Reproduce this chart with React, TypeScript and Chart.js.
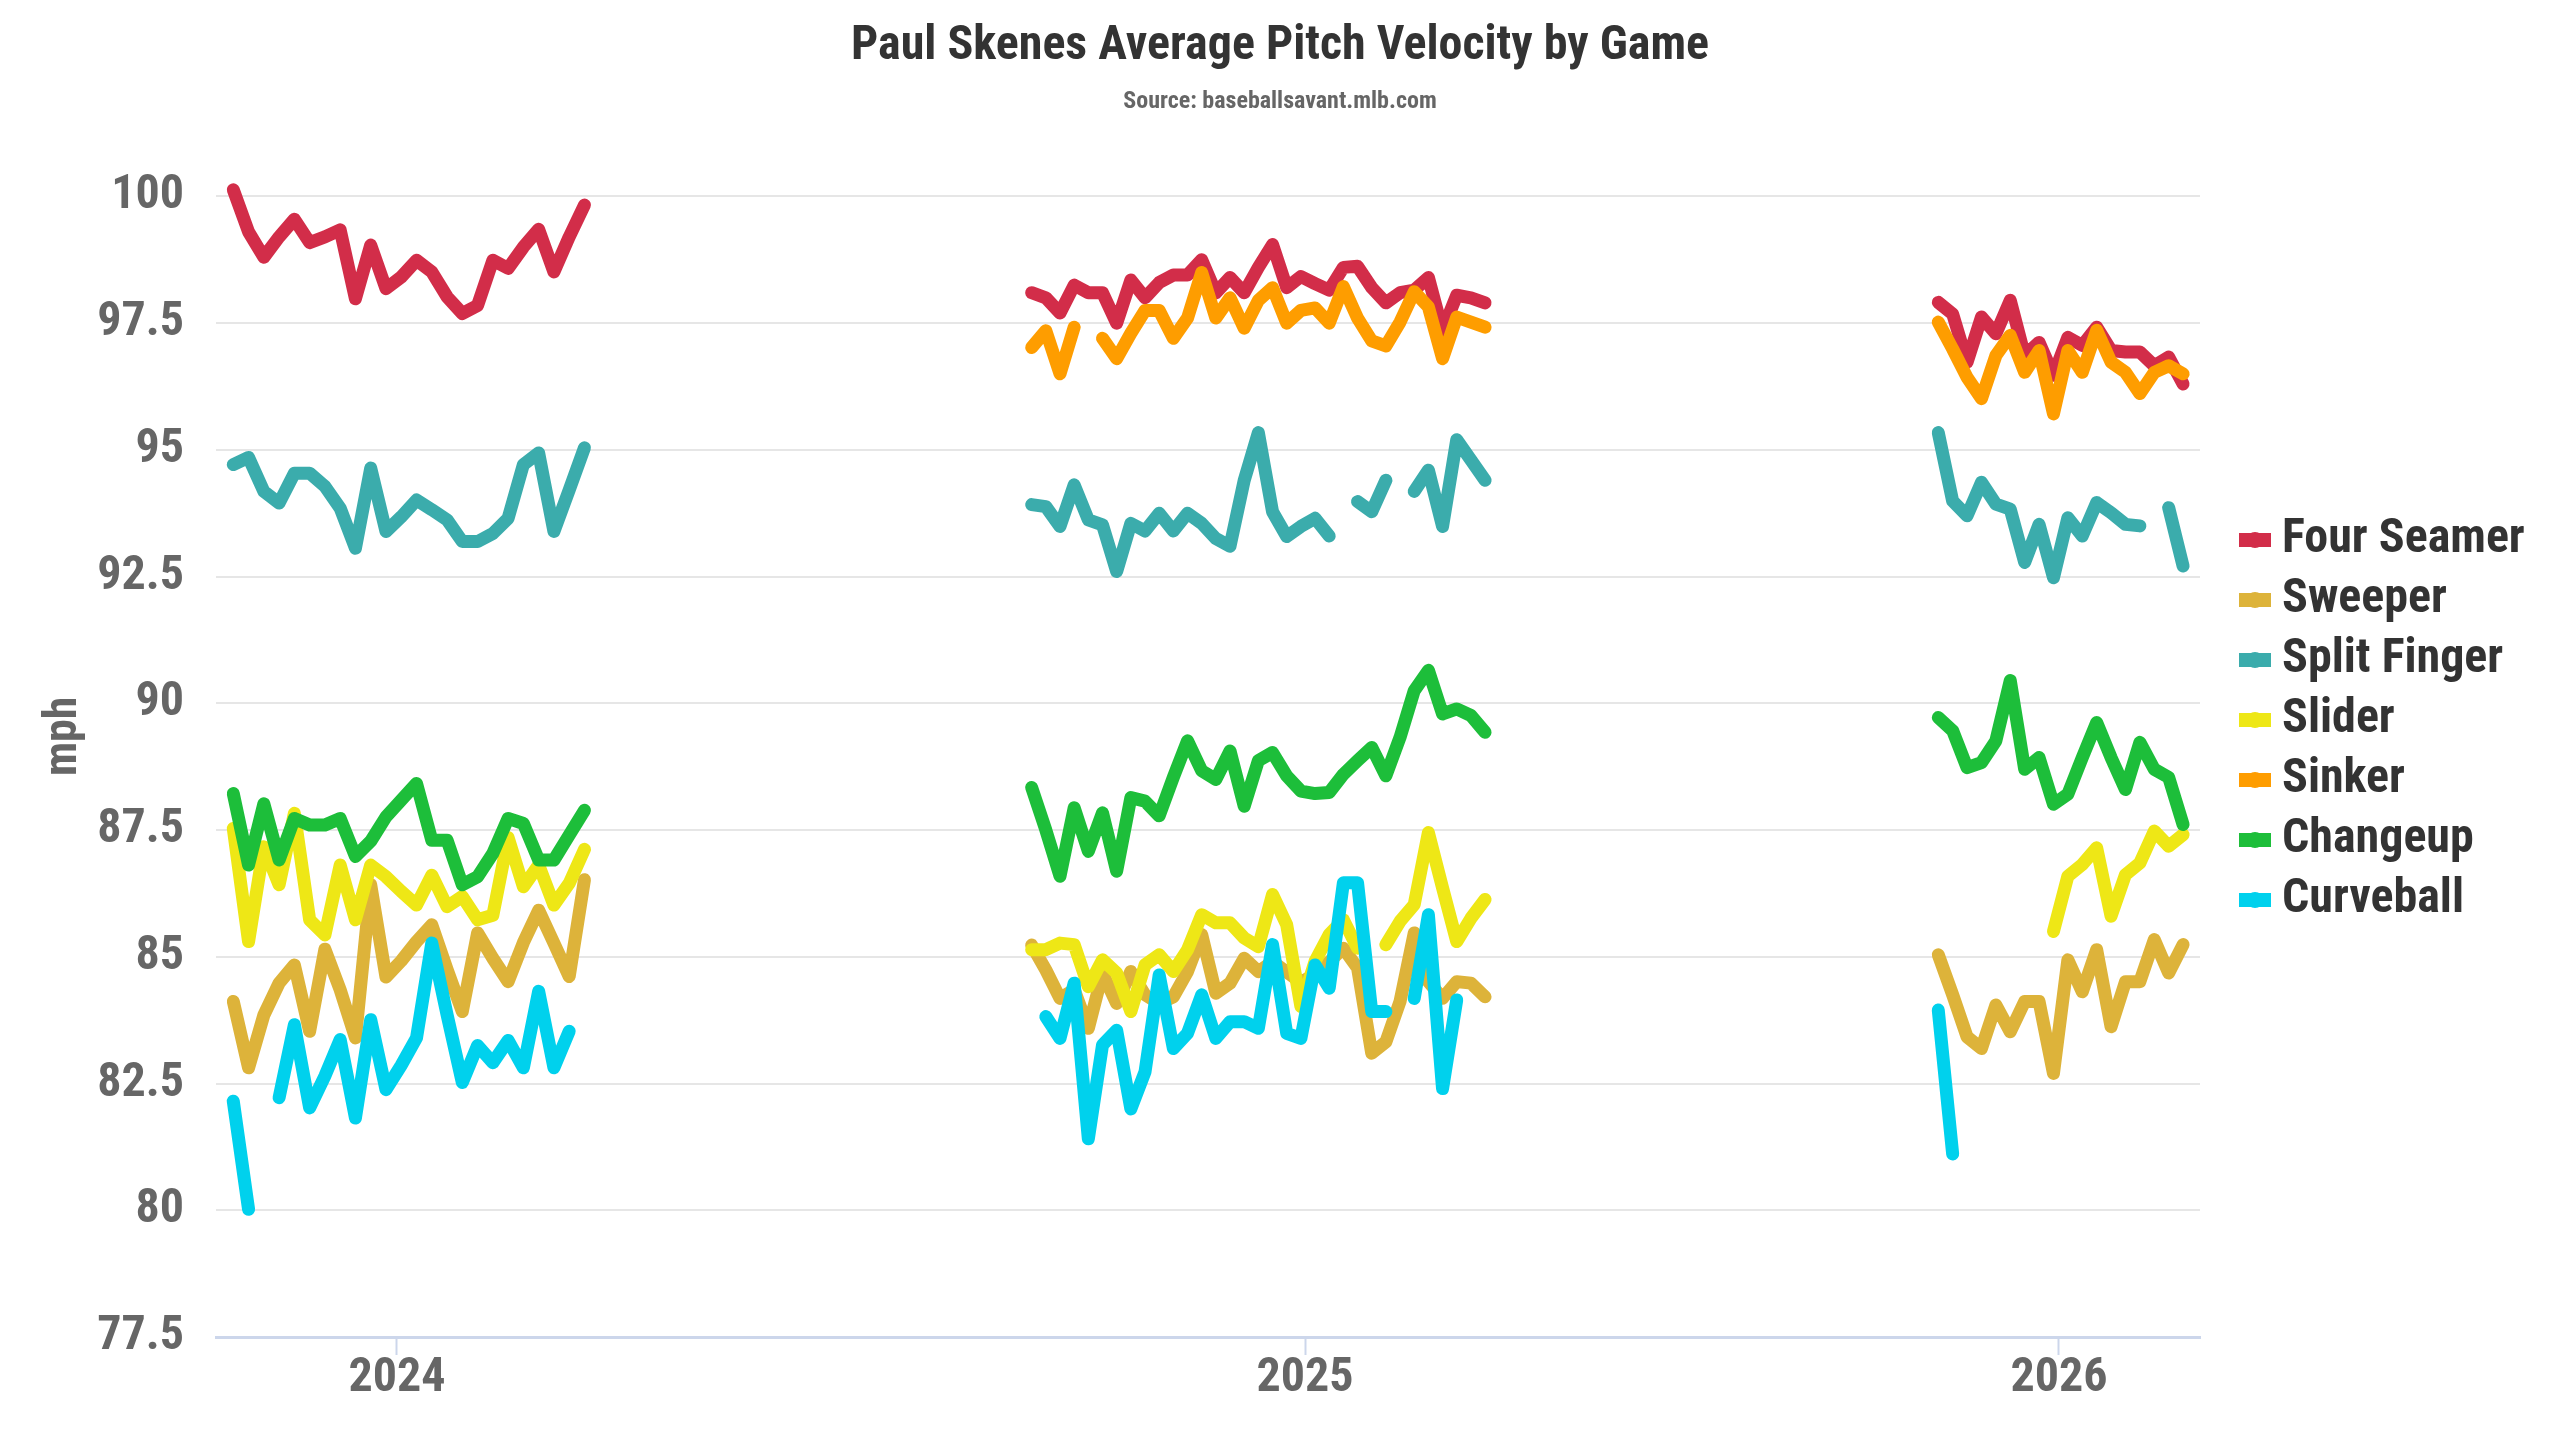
import React, { useEffect, useRef } from 'react';
import { Chart, registerables } from 'chart.js';

Chart.register(...registerables);

const FONT = "'Roboto Condensed', 'Liberation Sans Narrow', 'DejaVu Sans Condensed', Roboto, sans-serif";

const pitchTypes = ['Four Seamer', 'Sweeper', 'Split Finger', 'Slider', 'Sinker', 'Changeup', 'Curveball'];
const pitchColors = ['#D22D49', '#DDB33A', '#3BACAC', '#EEE716', '#FE9D00', '#1DBE3A', '#00D1ED'];

// ---- 2024 season (average mph per game) ----
const fourSeamer2024 = [100.13, 99.3, 98.8, 99.2, 99.55, 99.09, 99.2, 99.34, 97.98, 99.04, 98.18, 98.41, 98.74, 98.51, 98.02, 97.69, 97.85, 98.74, 98.58, 99.0, 99.35, 98.51, 99.2, 99.83];
const sweeper2024 = [84.12, 82.81, 83.85, 84.48, 84.84, 83.53, 85.15, 84.35, 83.4, 86.42, 84.6, 84.92, 85.3, 85.63, 84.75, 83.92, 85.47, 84.97, 84.51, 85.28, 85.92, 85.27, 84.61, 86.52];
const splitFinger2024 = [94.71, 94.85, 94.18, 93.95, 94.54, 94.54, 94.28, 93.85, 93.06, 94.64, 93.39, 93.68, 94.01, 93.82, 93.62, 93.19, 93.19, 93.35, 93.65, 94.71, 94.94, 93.39, 94.21, 95.04];
const slider2024 = [87.53, 85.3, 87.17, 86.42, 87.83, 85.73, 85.43, 86.81, 85.73, 86.81, 86.58, 86.29, 86.02, 86.61, 85.99, 86.19, 85.73, 85.82, 87.35, 86.38, 86.81, 86.02, 86.45, 87.12];
const sinker2024: (number | null)[] = new Array(24).fill(null);
const changeup2024 = [88.22, 86.81, 88.02, 86.91, 87.73, 87.6, 87.6, 87.73, 86.98, 87.28, 87.76, 88.09, 88.42, 87.3, 87.3, 86.42, 86.58, 87.04, 87.73, 87.63, 86.91, 86.91, 87.4, 87.89];
const curveball2024 = [82.15, 80.02, null, 82.22, 83.66, 82.02, 82.65, 83.37, 81.82, 83.76, 82.38, 82.86, 83.4, 85.27, 83.86, 82.52, 83.25, 82.91, 83.35, 82.81, 84.32, 82.81, 83.53, null];

// ---- 2025 season ----
const fourSeamer2025 = [98.1, 98.0, 97.7, 98.25, 98.1, 98.1, 97.5, 98.35, 98.0, 98.3, 98.45, 98.45, 98.75, 98.1, 98.4, 98.1, 98.6, 99.05, 98.2, 98.42, 98.28, 98.15, 98.6, 98.62, 98.2, 97.9, 98.1, 98.15, 98.4, 97.35, 98.05, 98.0, 97.9];
const sweeper2025 = [85.23, 84.74, 84.18, 84.35, 83.59, 84.68, 84.08, 84.71, 84.25, 84.08, 84.21, 84.71, 85.44, 84.28, 84.48, 84.97, 84.71, 84.9, 84.7, 84.5, 84.65, 84.9, 85.17, 84.78, 83.1, 83.32, 84.12, 85.47, 84.51, 84.18, 84.51, 84.48, 84.21];
const splitFinger2025 = [93.92, 93.88, 93.49, 94.31, 93.62, 93.52, 92.6, 93.55, 93.4, 93.75, 93.4, 93.75, 93.55, 93.25, 93.1, 94.4, 95.34, 93.78, 93.29, 93.49, 93.65, 93.3, null, 93.98, 93.78, 94.4, null, 94.18, 94.6, 93.49, 95.2, 94.8, 94.4];
const slider2025 = [85.14, 85.14, 85.27, 85.24, 84.41, 84.94, 84.68, 83.92, 84.84, 85.04, 84.71, 85.14, 85.83, 85.67, 85.67, 85.37, 85.2, 86.23, 85.63, 84.02, 84.91, 85.44, 85.73, 85.17, null, 85.24, 85.7, 86.03, 87.45, 86.36, 85.3, 85.76, 86.13];
const sinker2025 = [97.02, 97.35, 96.5, 97.42, null, 97.2, 96.8, 97.3, 97.75, 97.75, 97.2, 97.6, 98.5, 97.6, 98.0, 97.4, 97.95, 98.2, 97.5, 97.75, 97.8, 97.5, 98.22, 97.6, 97.15, 97.05, 97.52, 98.12, 97.82, 96.8, 97.62, 97.52, 97.42];
const changeup2025 = [88.34, 87.5, 86.59, 87.94, 87.08, 87.84, 86.69, 88.14, 88.07, 87.78, 88.54, 89.26, 88.67, 88.5, 89.06, 87.97, 88.87, 89.03, 88.57, 88.27, 88.22, 88.24, 88.6, 88.87, 89.13, 88.57, 89.33, 90.25, 90.65, 89.79, 89.89, 89.76, 89.43];
const curveball2025 = [null, 83.82, 83.39, 84.48, 81.41, 83.26, 83.55, 82.0, 82.73, 84.64, 83.19, 83.49, 84.25, 83.39, 83.72, 83.72, 83.59, 85.24, 83.49, 83.39, 84.84, 84.38, 86.46, 86.46, 83.92, 83.92, null, 84.18, 85.83, 82.4, 84.15, null, null];

// ---- 2026 season ----
const fourSeamer2026 = [97.91, 97.68, 96.73, 97.62, 97.29, 97.95, 96.86, 97.12, 96.47, 97.22, 97.06, 97.42, 96.96, 96.93, 96.93, 96.66, 96.83, 96.3];
const sweeper2026 = [85.04, 84.25, 83.42, 83.19, 84.05, 83.52, 84.12, 84.12, 82.7, 84.94, 84.31, 85.14, 83.62, 84.51, 84.51, 85.34, 84.68, 85.24];
const splitFinger2026 = [95.34, 93.99, 93.7, 94.36, 93.93, 93.83, 92.78, 93.53, 92.48, 93.66, 93.3, 93.96, 93.76, 93.53, 93.5, null, 93.86, 92.71];
const slider2026 = [null, null, null, null, null, null, null, null, 85.5, 86.59, 86.82, 87.15, 85.8, 86.62, 86.85, 87.48, 87.18, 87.41];
const sinker2026 = [97.52, 96.99, 96.43, 96.01, 96.86, 97.26, 96.53, 96.96, 95.71, 96.96, 96.53, 97.36, 96.73, 96.53, 96.11, 96.53, 96.66, 96.5];
const changeup2026 = [89.72, 89.46, 88.73, 88.83, 89.26, 90.45, 88.7, 88.93, 88.01, 88.21, 88.93, 89.62, 88.93, 88.3, 89.23, 88.7, 88.54, 87.61];
const curveball2026 = [83.95, 81.11, null, null, null, null, null, null, null, null, null, null, null, null, null, null, null, null];

// timeline (days, relative to the "2024" axis mark)
const seasonFirstDay = [-65.8, 255.1, 619.5];
const seasonDaysPerStart = [6.137, 5.695, 5.788];
const yearTickDays = [0, 365, 668];
const yearTickLabels = ['2024', '2025', '2026'];
const xMinDay = -72.75;
const xMaxDay = 724.7;

const yMin = 77.5;
const yMax = 100;
const yStep = 2.5;
const yAxisTitle = 'mph';
const yAxisTitleValue = 89.35;

const seasonValues: (number | null)[][][] = [
  [fourSeamer2024, fourSeamer2025, fourSeamer2026],
  [sweeper2024, sweeper2025, sweeper2026],
  [splitFinger2024, splitFinger2025, splitFinger2026],
  [slider2024, slider2025, slider2026],
  [sinker2024, sinker2025, sinker2026],
  [changeup2024, changeup2025, changeup2026],
  [curveball2024, curveball2025, curveball2026],
];

function buildPoints(seasons: (number | null)[][]) {
  const pts: { x: number; y: number | null }[] = [];
  seasons.forEach((vals, s) => {
    vals.forEach((v, i) => {
      pts.push({ x: seasonFirstDay[s] + i * seasonDaysPerStart[s], y: v });
    });
    const endX = seasonFirstDay[s] + vals.length * seasonDaysPerStart[s];
    pts.push({ x: endX, y: null });
  });
  return pts;
}

function legendSymbol(color: string) {
  const c = document.createElement('canvas');
  c.width = 72;
  c.height = 20;
  const g = c.getContext('2d')!;
  g.fillStyle = color;
  g.fillRect(40, 3, 32, 14);
  g.beginPath();
  g.arc(56, 10, 8, 0, Math.PI * 2);
  g.fill();
  return c;
}

const yTitlePlugin = {
  id: 'yTitleMph',
  afterDraw(chart: any) {
    const { ctx, scales } = chart;
    const y = scales.y;
    const py = y.getPixelForValue(yAxisTitleValue);
    ctx.save();
    ctx.translate(64, py);
    ctx.rotate(-Math.PI / 2);
    ctx.font = `bold 46px ${FONT}`;
    ctx.fillStyle = '#666666';
    ctx.textAlign = 'center';
    ctx.textBaseline = 'middle';
    ctx.fillText(yAxisTitle, 0, 0);
    ctx.restore();
  },
};

export default function App() {
  const ref = useRef<HTMLCanvasElement | null>(null);

  useEffect(() => {
    document.body.style.margin = '0';
    const canvas = ref.current;
    if (!canvas) return;

    const legendFontSize = 48;
    const legendPadding = 12;
    const symbolWidth = 46;
    const legendTarget = 360;
    const plotLeft = 216;
    const m = document.createElement('canvas').getContext('2d')!;
    m.font = `bold ${legendFontSize}px ${FONT}`;
    const maxText = Math.max(...pitchTypes.map((t) => m.measureText(t).width));
    const natural = legendPadding + symbolWidth + legendFontSize / 2 + maxText + 10;
    // symmetric side padding keeps the full-width title centred on the canvas
    const sidePad = Math.min(100, Math.max(0, legendTarget - natural));

    const datasets = pitchTypes.map((name, i) => ({
      label: name,
      data: buildPoints(seasonValues[i]),
      borderColor: pitchColors[i],
      backgroundColor: pitchColors[i],
      borderWidth: 13,
      borderJoinStyle: 'round' as const,
      borderCapStyle: 'round' as const,
      pointRadius: 0,
      pointHoverRadius: 0,
      pointStyle: legendSymbol(pitchColors[i]),
      tension: 0,
      spanGaps: false,
      clip: false as const,
      order: pitchTypes.length - i,
    }));

    const chart = new Chart(canvas, {
      type: 'line',
      data: { datasets },
      plugins: [yTitlePlugin],
      options: {
        animation: false,
        responsive: true,
        maintainAspectRatio: false,
        devicePixelRatio: 1,
        layout: { padding: { left: sidePad, right: sidePad, top: 0, bottom: 0 } },
        plugins: {
          tooltip: { enabled: false },
          title: {
            display: true,
            text: 'Paul Skenes Average Pitch Velocity by Game',
            color: '#333333',
            font: { family: FONT, size: 48, weight: 'bold', lineHeight: 1.2 },
            padding: { top: 18.5, bottom: 0 },
          },
          subtitle: {
            display: true,
            text: 'Source: baseballsavant.mlb.com',
            color: '#666666',
            font: { family: FONT, size: 24, weight: 'bold', lineHeight: 1.2 },
            padding: { top: 11.5, bottom: 80 },
          },
          legend: {
            display: true,
            position: 'right',
            align: 'center',
            maxWidth: legendTarget,
            labels: {
              usePointStyle: true,
              pointStyleWidth: symbolWidth,
              padding: legendPadding,
              color: '#333333',
              font: { family: FONT, size: legendFontSize, weight: 'bold' },
              sort: (a: any, b: any) => a.datasetIndex - b.datasetIndex,
            },
          },
        },
        scales: {
          x: {
            type: 'linear',
            min: xMinDay,
            max: xMaxDay,
            afterBuildTicks: (scale: any) => {
              scale.ticks = yearTickDays.map((v) => ({ value: v }));
            },
            afterFit: (scale: any) => {
              scale.height = 103;
            },
            ticks: {
              autoSkip: false,
              maxRotation: 0,
              padding: 0,
              color: '#666666',
              font: { family: FONT, size: 48, weight: 'bold', lineHeight: 1 },
              callback: (value: any) => {
                const idx = yearTickDays.indexOf(Number(value));
                return idx >= 0 ? yearTickLabels[idx] : '';
              },
            },
            grid: {
              display: true,
              drawOnChartArea: false,
              drawTicks: true,
              tickLength: 18,
              tickColor: '#ccd6eb',
              tickWidth: 2,
            },
            border: { display: true, color: '#ccd6eb', width: 3 },
          },
          y: {
            type: 'linear',
            min: yMin,
            max: yMax,
            afterFit: (scale: any) => {
              scale.width = plotLeft - sidePad;
            },
            ticks: {
              stepSize: yStep,
              padding: 32,
              color: '#666666',
              font: { family: FONT, size: 48, weight: 'bold' },
            },
            grid: {
              color: '#e6e6e6',
              lineWidth: 2,
              drawTicks: false,
            },
            border: { display: false },
            title: { display: false },
          },
        },
      },
    });

    return () => {
      chart.destroy();
    };
  }, []);

  return (
    <div style={{ width: 2560, height: 1440, position: 'relative', background: '#ffffff' }}>
      <canvas ref={ref} />
    </div>
  );
}
